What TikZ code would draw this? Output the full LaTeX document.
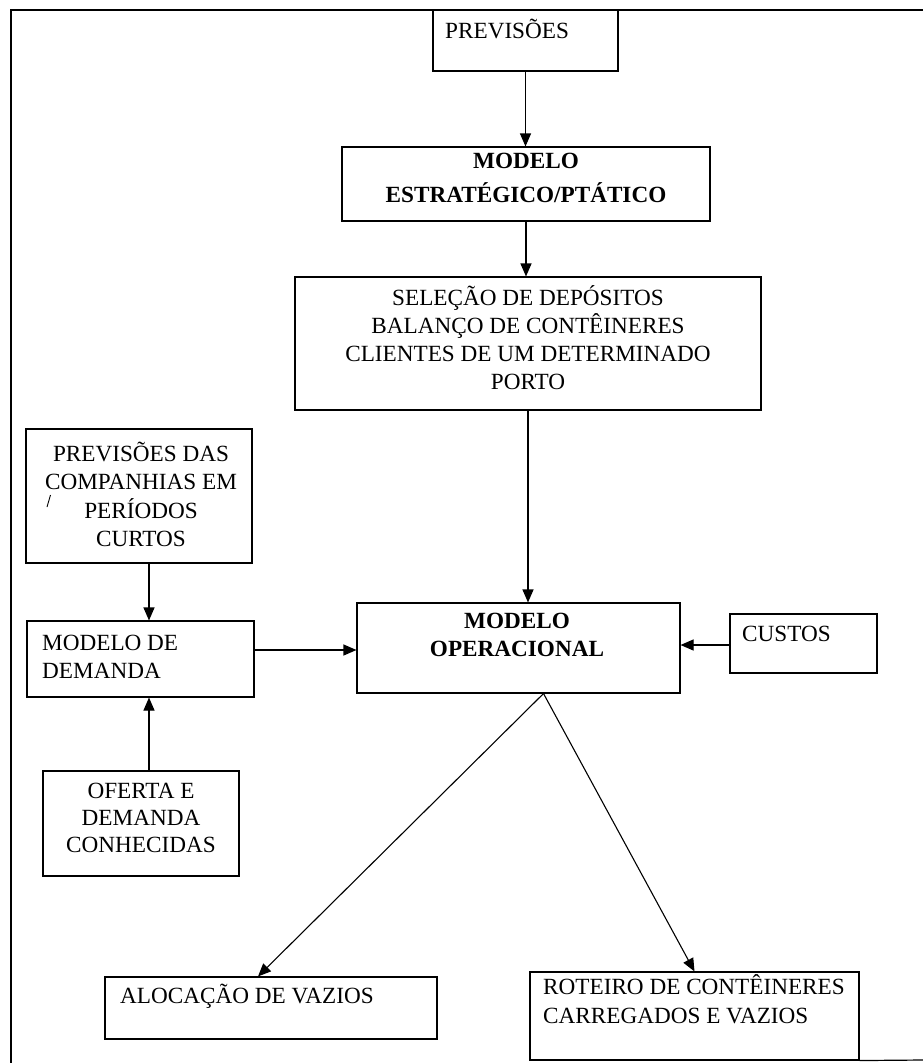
\documentclass[tikz,border=0pt]{standalone}
\usepackage{fontspec}
\setmainfont{Liberation Serif}
\usetikzlibrary{arrows.meta}
% stacked lines whose first baseline is the node baseline
\newcommand{\stackl}[2][c]{\begin{tabular}[t]{@{}#1@{}}#2\end{tabular}}
\begin{document}
\begin{tikzpicture}[x=1pt,y=-1pt,
  box/.style={draw, line width=1.1pt, inner sep=0pt},
  txt/.style={inner sep=0pt, font=\fontsize{23.2}{28}\selectfont},
  bold/.style={inner sep=0pt, font=\fontsize{23.2}{34}\selectfont\bfseries},
  arr/.style={line width=1.1pt, -{Triangle[length=13pt,width=11pt]}},
  frame/.style={line width=1.2pt}]
\useasboundingbox (0,0) rectangle (923,1063);
\fill[white] (0,0) rectangle (923,1063);

% outer frame (open at the right and lower left)
\coordinate (fBL) at (11,1063);
\coordinate (fTL) at (11,10);
\coordinate (fTR) at (923,10);
\coordinate (fBR) at (923,1060);
\draw[frame] (fBL) -- (fTL) -- (fTR);

% boxes
\node[box, minimum width=185pt, minimum height=61pt]  (prev) at (525.5,40.5) {};
\node[box, minimum width=368pt, minimum height=74pt]  (estr) at (526,184) {};
\node[box, minimum width=466pt, minimum height=133pt] (sel)  at (528,343.5) {};
\node[box, minimum width=226pt, minimum height=134pt] (pdc)  at (139,496) {};
\node[box, minimum width=227pt, minimum height=76pt]  (dem)  at (140.5,659) {};
\node[box, minimum width=196pt, minimum height=105pt] (ofe)  at (141,823.5) {};
\node[box, minimum width=323pt, minimum height=90pt]  (oper) at (518.5,648) {};
\node[box, minimum width=147pt, minimum height=59pt]  (cus)  at (803.5,643.5) {};
\node[box, minimum width=332pt, minimum height=62pt]  (alo)  at (271,1008) {};
\node[box, minimum width=329pt, minimum height=88pt]  (rot)  at (694.5,1016) {};

\draw[frame] (rot.south east) -- (fBR);

% texts
\node[txt, anchor=base west] (tprev) at (445,38) {PREVISÕES};
\node[bold, anchor=base] (testr) at (526,168) {\stackl{MODELO\\ESTRATÉGICO/PTÁTICO}};
\node[txt, anchor=base] (tsel) at (528,305)
  {\stackl{SELEÇÃO DE DEPÓSITOS\\BALANÇO DE CONTÊINERES\\CLIENTES DE UM DETERMINADO\\PORTO}};
\node[txt, anchor=base, font=\fontsize{23.2}{28.5}\selectfont] (tpdc) at (141,461)
  {\stackl{PREVISÕES DAS\\COMPANHIAS EM\\PERÍODOS\\CURTOS}};
\node[txt, anchor=base west] (tdem) at (42,650) {\stackl[l]{MODELO DE\\DEMANDA}};
\node[txt, anchor=base, font=\fontsize{23.2}{27}\selectfont] (tofe) at (141,798)
  {\stackl{OFERTA E\\DEMANDA\\CONHECIDAS}};
\node[bold, anchor=base, font=\fontsize{23.2}{28}\selectfont\bfseries] (toper) at (517,628)
  {\stackl{MODELO\\OPERACIONAL}};
\node[txt, anchor=base west] (tcus) at (742,641) {CUSTOS};
\node[txt, anchor=base west] (talo) at (120,1003) {ALOCAÇÃO DE VAZIOS};
\node[txt, anchor=base west, font=\fontsize{23.2}{29}\selectfont] (trot) at (543,994)
  {\stackl[l]{ROTEIRO DE CONTÊINERES\\CARREGADOS E VAZIOS}};

% small stray stroke inside the forecasts box
\draw[line width=0.9pt] (47,507) -- (50.5,495);

% connectors
\draw[arr] (prev.south) -- (prev.south |- estr.north);
\draw[arr] (estr.south) -- (estr.south |- sel.north);
\draw[arr] (sel.south) -- (sel.south |- oper.north);
\draw[arr] ([xshift=10pt]pdc.south) -- ([xshift=10pt]pdc.south |- dem.north);
\draw[arr] ([xshift=8pt]ofe.north) -- ([xshift=8pt]ofe.north |- dem.south);
\draw[arr] ([yshift=9pt]dem.east) -- ([yshift=9pt]dem.east -| oper.west);
\draw[arr] ([yshift=-1.5pt]cus.west) -- ([yshift=-1.5pt]cus.west -| oper.east);
\coordinate (apex) at ([xshift=25pt]oper.south);
\draw[arr] (apex) -- ([xshift=-13pt]alo.north);
\draw[arr] (apex) -- (rot.north);
\end{tikzpicture}
\end{document}
